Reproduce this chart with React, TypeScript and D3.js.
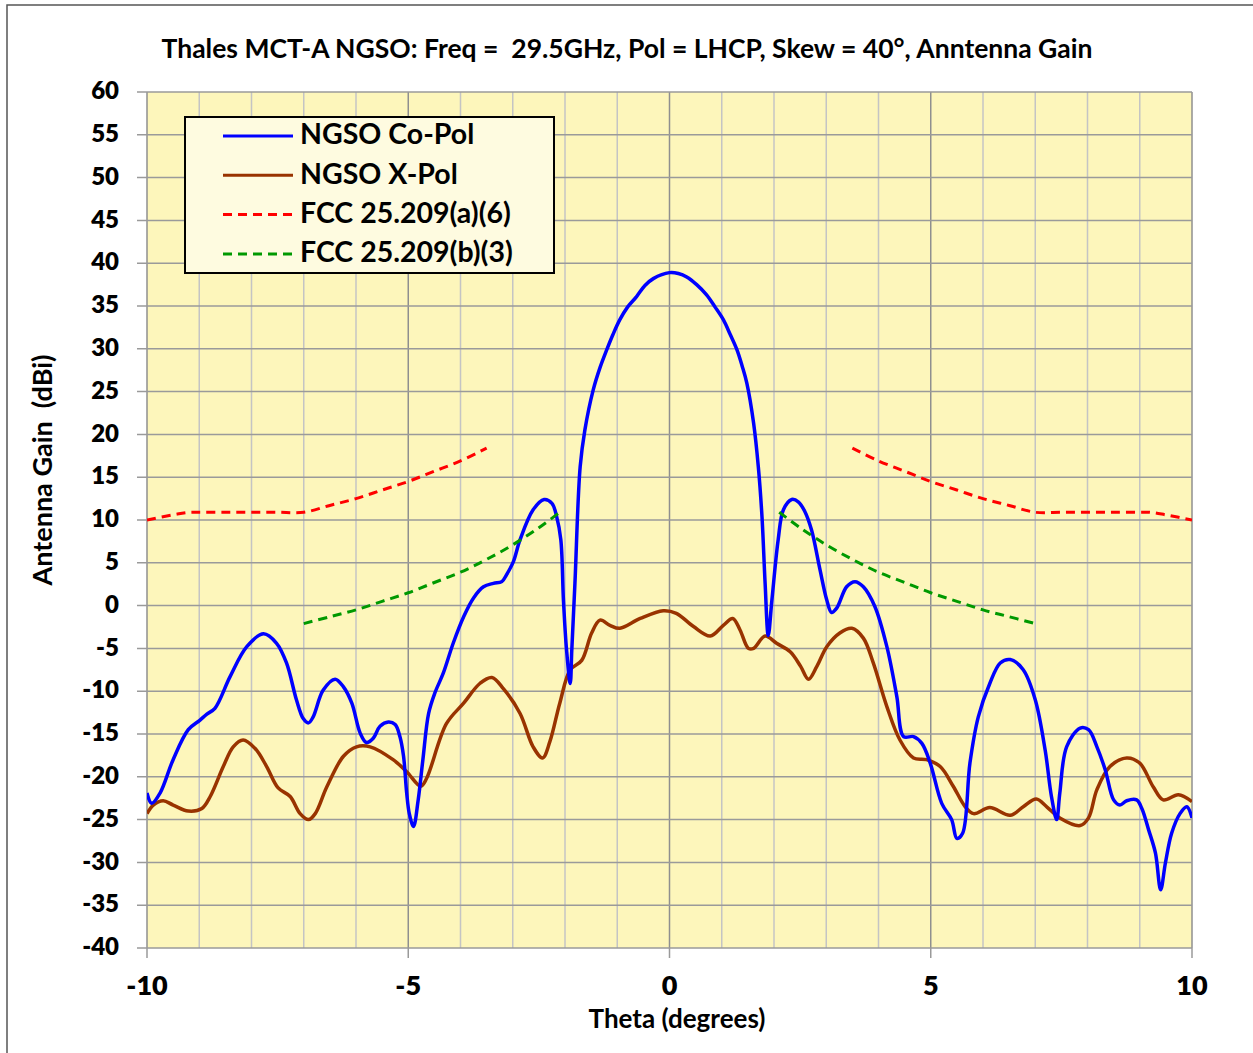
import React from 'react';
import * as d3 from 'd3';

// Co-pol pattern
const coTheta = [-10, -9.91, -9.75, -9.5, -9.21, -8.99, -8.86, -8.7, -8.41, -8.09, -7.77, -7.52, -7.33, -7.14, -7.01, -6.91, -6.82, -6.63, -6.4, -6.24, -6.08, -5.92, -5.8, -5.67, -5.54, -5.38, -5.25, -5.16, -5.09, -5.03, -4.98, -4.9, -4.81, -4.72, -4.61, -4.49, -4.33, -4.14, -3.94, -3.75, -3.56, -3.37, -3.21, -3.12, -2.99, -2.86, -2.61, -2.4, -2.25, -2.16, -2.08, -2.03, -1.97, -1.9, -1.87, -1.81, -1.71, -1.62, -1.46, -1.33, -1.2, -1.08, -0.95, -0.8, -0.63, -0.47, -0.31, 0, 0.17, 0.33, 0.52, 0.71, 0.87, 1.03, 1.16, 1.29, 1.39, 1.48, 1.61, 1.7, 1.77, 1.83, 1.89, 1.96, 2.08, 2.18, 2.34, 2.47, 2.59, 2.72, 2.88, 3.01, 3.1, 3.2, 3.39, 3.55, 3.71, 3.93, 4.16, 4.35, 4.48, 4.67, 4.83, 4.99, 5.21, 5.4, 5.5, 5.61, 5.75, 5.91, 6.13, 6.33, 6.52, 6.77, 7.0, 7.19, 7.31, 7.41, 7.47, 7.6, 7.86, 8.02, 8.18, 8.34, 8.5, 8.62, 8.75, 8.94, 9.04, 9.17, 9.3, 9.4, 9.49, 9.61, 9.77, 9.9, 10];
const coGain = [-21.9, -23.1, -21.9, -18.0, -14.5, -13.4, -12.7, -12.0, -8.3, -4.8, -3.3, -4.4, -6.7, -11.0, -13.2, -13.7, -13.0, -9.9, -8.6, -9.5, -11.4, -14.9, -16.0, -15.5, -14.1, -13.6, -13.9, -15.3, -17.6, -21.9, -24.3, -25.8, -22.7, -18.0, -12.6, -10.2, -7.9, -4.4, -1.3, 0.9, 2.2, 2.6, 2.8, 3.6, 5.1, 7.7, 11.2, 12.4, 11.95, 10.4, 7.7, 0.65, -5.2, -9.1, -5.2, 2.6, 16.2, 20.5, 25.2, 27.8, 29.9, 31.7, 33.4, 34.9, 36.1, 37.4, 38.2, 38.9, 38.8, 38.4, 37.5, 36.3, 34.9, 33.4, 31.7, 29.9, 28.0, 26.0, 21.3, 16.2, 10.4, 2.6, -3.5, 0.65, 7.7, 11.2, 12.4, 12.1, 11.0, 8.8, 4.2, 0.65, -0.8, -0.3, 2.2, 2.8, 2.2, -0.1, -4.8, -10.6, -15.3, -15.3, -16.1, -18.4, -23.1, -25.0, -27.2, -26.6, -18.4, -13.0, -9.1, -6.7, -6.3, -7.5, -11.0, -16.9, -22.3, -25.0, -21.9, -16.5, -14.3, -14.5, -16.5, -19.2, -22.7, -23.3, -22.8, -22.7, -23.7, -26.2, -28.9, -33.2, -30.1, -26.6, -24.3, -23.5, -24.8];

// Cross-pol pattern
const xTheta = [-10, -9.88, -9.69, -9.5, -9.21, -8.95, -8.79, -8.54, -8.35, -8.16, -7.93, -7.71, -7.49, -7.26, -7.07, -6.91, -6.78, -6.56, -6.24, -5.99, -5.73, -5.29, -5.03, -4.76, -4.65, -4.27, -3.94, -3.63, -3.4, -3.18, -2.86, -2.61, -2.43, -2.29, -2.1, -1.9, -1.68, -1.49, -1.33, -1.14, -0.95, -0.56, -0.12, 0.13, 0.46, 0.78, 1.03, 1.21, 1.35, 1.51, 1.61, 1.83, 2.05, 2.31, 2.51, 2.66, 2.82, 3.01, 3.26, 3.49, 3.71, 3.9, 4.16, 4.41, 4.67, 4.92, 5.18, 5.43, 5.66, 5.82, 6.13, 6.52, 6.77, 7.02, 7.22, 7.47, 7.86, 8.02, 8.18, 8.43, 8.75, 9.0, 9.26, 9.45, 9.74, 10];
const xGain = [-24.3, -23.3, -22.8, -23.3, -24.0, -23.7, -22.3, -18.8, -16.5, -15.7, -16.7, -18.8, -21.3, -22.3, -24.3, -25.0, -24.3, -21.2, -17.6, -16.5, -16.5, -18.0, -19.4, -21.1, -20.2, -13.8, -11.4, -9.1, -8.4, -9.7, -12.6, -16.5, -17.8, -15.9, -11.4, -7.5, -6.4, -3.2, -1.7, -2.3, -2.65, -1.5, -0.6, -0.9, -2.45, -3.55, -2.3, -1.5, -2.85, -5.0, -5.0, -3.55, -4.4, -5.4, -7.1, -8.6, -7.1, -4.8, -3.2, -2.65, -3.8, -6.7, -11.8, -15.7, -17.8, -18.0, -18.8, -21.1, -23.5, -24.3, -23.6, -24.5, -23.5, -22.6, -23.5, -24.8, -25.7, -24.8, -21.5, -18.8, -17.8, -18.4, -21.2, -22.7, -22.1, -22.9];

// FCC 25.209(a)(6) mask (two segments)
const maskATheta = [3.5, 4, 4.5, 5, 5.5, 6, 6.5, 7, 7.5, 8, 8.5, 9, 9.2, 9.5, 10];
const maskAGain = [18.4, 16.9, 15.7, 14.5, 13.5, 12.5, 11.7, 10.9, 10.9, 10.9, 10.9, 10.9, 10.9, 10.6, 10.0];

// FCC 25.209(b)(3) mask (two segments)
const maskBTheta = [2.1, 2.5, 3, 3.5, 4, 4.5, 5, 5.5, 6, 6.5, 7];
const maskBGain = [10.9, 9.1, 7.1, 5.4, 3.9, 2.7, 1.5, 0.5, -0.5, -1.3, -2.1];

const yTicks = [60, 55, 50, 45, 40, 35, 30, 25, 20, 15, 10, 5, 0, -5, -10, -15, -20, -25, -30, -35, -40];
const xTicks = [-10, -5, 0, 5, 10];

const legendItems = [
  { label: 'NGSO Co-Pol', color: '#0000ff', dash: '' },
  { label: 'NGSO X-Pol', color: '#993300', dash: '' },
  { label: 'FCC 25.209(a)(6)', color: '#ff0000', dash: '9,6' },
  { label: 'FCC 25.209(b)(3)', color: '#009900', dash: '9,6' },
];

const FONT = 'Lato, "Open Sans", sans-serif';

const App = () => {
  const width = 1253;
  const height = 1053;
  const left = 147, right = 1192, top = 92, bottom = 948;

  const x = d3.scaleLinear().domain([-10, 10]).range([left, right]);
  const y = d3.scaleLinear().domain([-40, 60]).range([bottom, top]);

  const zip = (t: number[], g: number[]) => t.map((v, i) => [v, g[i]] as [number, number]);
  const mirror = (t: number[], g: number[]) => t.map((v, i) => [-v, g[i]] as [number, number]).reverse();

  const smooth = d3.line<[number, number]>()
    .x(d => x(d[0]))
    .y(d => y(d[1]))
    .curve(d3.curveCatmullRom.alpha(0.5));

  const series = [
    { d: smooth(zip(xTheta, xGain)), color: '#993300', w: 3.5, dash: '' },
    { d: smooth(zip(coTheta, coGain)), color: '#0000ff', w: 3.5, dash: '' },
    { d: smooth(mirror(maskATheta, maskAGain)), color: '#ff0000', w: 3, dash: '9,6' },
    { d: smooth(zip(maskATheta, maskAGain)), color: '#ff0000', w: 3, dash: '9,6' },
    { d: smooth(mirror(maskBTheta, maskBGain)), color: '#009900', w: 3, dash: '9,6' },
    { d: smooth(zip(maskBTheta, maskBGain)), color: '#009900', w: 3, dash: '9,6' },
  ];

  const vGrid = d3.range(-10, 11, 1);

  return (
    <svg width={width} height={height} style={{ position: 'absolute', left: 0, top: 0, background: '#fff' }}
      fontFamily={FONT} fontWeight="bold">
      <rect x={7} y={5} width={1300} height={1100} fill="#fff" stroke="#555" strokeWidth={1.5} />

      <text x={627} y={51} textAnchor="middle" dominantBaseline="middle" fontSize={26.5}
        style={{ whiteSpace: 'pre' }}>
        {'Thales MCT-A NGSO: Freq =  29.5GHz, Pol = LHCP, Skew = 40°, Anntenna Gain'}
      </text>

      <rect x={left} y={top} width={right - left} height={bottom - top} fill="#fdf6bb" />

      {vGrid.map(t => (
        <line key={'v' + t} x1={x(t)} x2={x(t)} y1={top} y2={bottom}
          stroke={t % 5 === 0 ? '#8f8f8f' : '#c4c4c4'} strokeWidth={1.5} />
      ))}
      {yTicks.map(v => (
        <line key={'h' + v} x1={left - 10} x2={right} y1={y(v)} y2={y(v)} stroke="#9a9a9a" strokeWidth={1.5} />
      ))}
      {xTicks.map(t => (
        <line key={'xt' + t} x1={x(t)} x2={x(t)} y1={bottom} y2={bottom + 10} stroke="#9a9a9a" strokeWidth={1.5} />
      ))}

      {yTicks.map(v => (
        <text key={'yl' + v} x={119} y={y(v) + 1} textAnchor="end" dominantBaseline="middle" fontSize={24}
          fontWeight={800}>{v}</text>
      ))}
      {xTicks.map(t => (
        <text key={'xl' + t} x={x(t)} y={988} textAnchor="middle" dominantBaseline="middle" fontSize={27}
          fontWeight={800}>{t}</text>
      ))}

      <text x={677} y={1021} textAnchor="middle" dominantBaseline="middle" fontSize={26}>Theta (degrees)</text>
      <text transform="translate(45,470) rotate(-90)" textAnchor="middle" dominantBaseline="middle" fontSize={27}
        style={{ whiteSpace: 'pre' }}>
        {'Antenna Gain  (dBi)'}
      </text>

      <defs>
        <clipPath id="plotclip">
          <rect x={left} y={top} width={right - left} height={bottom - top} />
        </clipPath>
      </defs>
      <g clipPath="url(#plotclip)">
        {series.map((s, i) => (
          <path key={i} d={s.d || ''} fill="none" stroke={s.color} strokeWidth={s.w}
            strokeDasharray={s.dash} strokeLinejoin="round" />
        ))}
      </g>

      <rect x={185} y={117} width={369} height={156} fill="#fefbe0" stroke="#000" strokeWidth={2} />
      {legendItems.map((item, i) => {
        const ly = 136 + i * 39.3;
        return (
          <g key={item.label}>
            <line x1={223} x2={293} y1={ly} y2={ly} stroke={item.color} strokeWidth={3}
              strokeDasharray={item.dash} />
            <text x={300} y={ly + 1} dominantBaseline="middle" fontSize={28.5}>{item.label}</text>
          </g>
        );
      })}
    </svg>
  );
};

export default App;
